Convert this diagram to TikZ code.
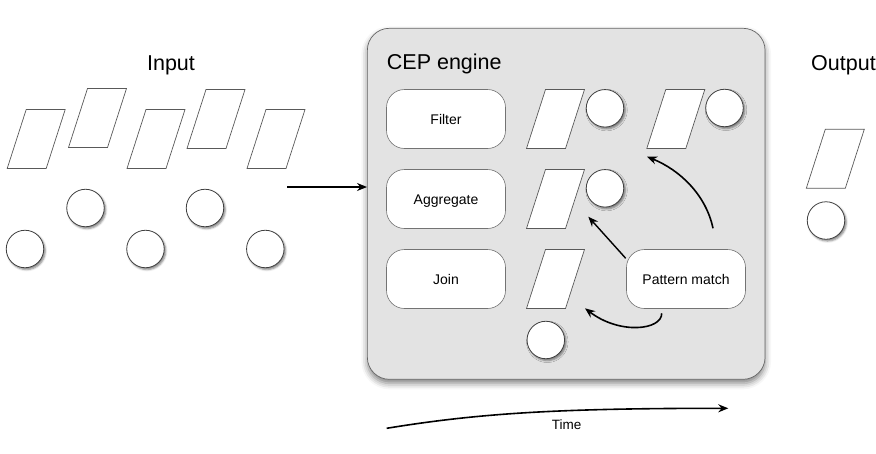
\documentclass[tikz,border=0pt]{standalone}
\usepackage{fontspec}
\setmainfont{Liberation Sans}
\usetikzlibrary{arrows.meta,shadows.blur,calc}
\newcommand\paral[3]{\coordinate (#1) at (#2,#3);
  \draw[para] ($(#1)+(-29,29.5)$) -- ++(39,0) -- ++(19,-59) -- ++(-39,0) -- cycle;}
\begin{document}
\begin{tikzpicture}[x=1pt,y=-1pt,
  ev/.style={circle, draw=black!75, fill=white, minimum size=37.5pt, inner sep=0pt, line width=0.8pt,
    blur shadow={shadow xshift=1.5pt, shadow yshift=-1.8pt, shadow blur radius=2pt, shadow opacity=50}},
  op/.style={rounded corners=18pt, draw=black!55, fill=white, minimum width=119pt, minimum height=59pt,
    font=\fontsize{14}{16}\selectfont, line width=0.6pt, inner sep=0pt, text height=10pt, text depth=0pt},
  para/.style={draw=black!65, fill=white, line width=0.7pt},
  arr/.style={-{Stealth[length=10pt,width=8pt]}, line width=1.6pt},
  title/.style={font=\fontsize{21.5}{24}\selectfont, inner sep=0pt, anchor=base}]
\useasboundingbox (0,0) rectangle (876,453);
% input
\node[title] (inlabel) at (171,70.7) {Input};
\paral{p1}{36.2}{139}
\paral{p2}{97.5}{118}
\paral{p3}{156}{139}
\paral{p4}{216}{119}
\paral{p5}{276}{139}
\node[ev] (c1) at (25,249) {};
\node[ev] (c2) at (85.5,208) {};
\node[ev] (c3) at (145.5,249) {};
\node[ev] (c4) at (205,208) {};
\node[ev] (c5) at (265.3,249) {};
% engine
\node[rounded corners=22pt, draw=black!60, fill=black!11, line width=0.7pt, minimum width=397.7pt, minimum height=351pt, inner sep=0pt,
  blur shadow={shadow xshift=0pt, shadow yshift=-4pt, shadow blur radius=6pt, shadow opacity=50}] (cep) at (566.2,203.8) {};
\node[title, anchor=base west] (ceplabel) at (386.7,69.3) {CEP engine};
\node[op] (filter) at (446,119) {Filter};
\node[op] (aggr) at (446,199) {Aggregate};
\node[op] (join) at (446,279) {Join};
\node[op] (pm) at (686,279) {Pattern match};
\paral{e1}{555.5}{119}
\paral{e2}{675.8}{119}
\paral{e3}{555.5}{199}
\paral{e4}{555.5}{279}
\node[ev] (d1) at (605,108.3) {};
\node[ev] (d2) at (724.5,108) {};
\node[ev] (d3) at (605,188.3) {};
\node[ev] (d4) at (545.8,340) {};
% arrows inside
\coordinate (a1s) at (713,228.3);
\coordinate (a1e) at (647,156.7);
\coordinate (a2s) at (625.7,258.3);
\coordinate (a2e) at (588.3,216.7);
\coordinate (a3s) at (661.7,313.3);
\coordinate (a3e) at (585,308.3);
\draw[arr] (a1s) .. controls (706,195) and (680,170) .. (a1e);
\draw[arr, line width=1.4pt] (a2s) -- (a2e);
\draw[arr] (a3s) .. controls (662,330) and (620,335) .. (a3e);
% input arrow
\coordinate (ia) at (287,187);
\draw[arr, line width=1.3pt] (ia) -- (cep.west |- ia);
% output
\node[title] (outlabel) at (843.5,70) {Output};
\paral{o1}{835.3}{158.8}
\node[ev] (oc) at (826,220.5) {};
% time
\coordinate (t1) at (386.7,428.3);
\coordinate (t2) at (728.3,408.3);
\draw[arr, line width=1.6pt] (t1) .. controls (480,413) and (560,408.3) .. (t2);
\node[font=\fontsize{13.5}{16}\selectfont] (time) at (566.7,424.3) {Time};
\end{tikzpicture}
\end{document}
